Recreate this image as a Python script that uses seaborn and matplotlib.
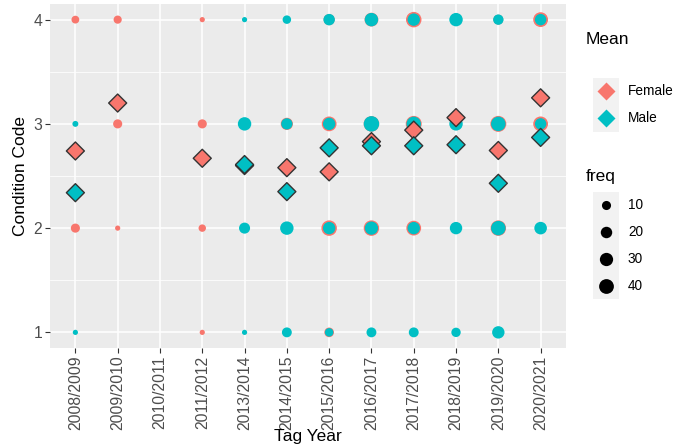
import numpy as np
import pandas as pd
import matplotlib
matplotlib.use("Agg")
import matplotlib.pyplot as plt
import seaborn as sns
from matplotlib.patches import Rectangle

# Tag years on the x axis (2012/2013 has no records)
years = ["2008/2009", "2009/2010", "2010/2011", "2011/2012", "2013/2014",
         "2014/2015", "2015/2016", "2016/2017", "2017/2018", "2018/2019",
         "2019/2020", "2020/2021"]
codes = [1, 2, 3, 4]

# Number of fish per condition code and tag year
female_c4 = [6, 7, 0, 1, 0, 0, 18, 33, 45, 11, 13, 40]
female_c3 = [0, 10, 0, 10, 3, 24, 40, 45, 49, 12, 49, 40]
female_c2 = [10, 1, 0, 5, 2, 17, 45, 45, 40, 7, 45, 16]
female_c1 = [0, 0, 0, 1, 0, 0, 12, 4, 8, 1, 0, 0]

male_c4 = [0, 0, 0, 0, 1, 8, 20, 31, 25, 31, 15, 20]
male_c3 = [2, 0, 0, 0, 31, 19, 25, 45, 38, 31, 38, 20]
male_c2 = [0, 0, 0, 0, 18, 31, 25, 30, 25, 25, 38, 26]
male_c1 = [1, 0, 0, 0, 1, 13, 8, 13, 13, 11, 25, 0]

# Mean condition code per tag year
female_mean = [2.74, 3.20, np.nan, 2.67, 2.60, 2.58, 2.54, 2.83, 2.94, 3.06, 2.745, 3.25]
male_mean = [2.34, np.nan, np.nan, np.nan, 2.61, 2.35, 2.77, 2.79, 2.79, 2.80, 2.43, 2.87]

freq_breaks = [10, 20, 30, 40]

RED = "#F8766D"
TEAL = "#00BFC4"
palette = {"Female": RED, "Male": TEAL}

# Long tables for seaborn
rows = []
for sex, per_code in [("Female", [female_c1, female_c2, female_c3, female_c4]),
                      ("Male", [male_c1, male_c2, male_c3, male_c4])]:
    for code, counts in zip(codes, per_code):
        for i, n in enumerate(counts):
            if n > 0:
                rows.append({"pos": i, "year": years[i], "code": code,
                             "freq": n, "sex": sex})
counts_df = pd.DataFrame(rows)

mrows = []
for sex, means in [("Female", female_mean), ("Male", male_mean)]:
    for i, m in enumerate(means):
        if not np.isnan(m):
            mrows.append({"pos": i, "year": years[i], "mean": m, "sex": sex})
means_df = pd.DataFrame(mrows)


def point_area(n):
    """Marker area (pt^2) for a frequency: diameter grows with sqrt(freq)."""
    d_px = 3.4 + 1.8 * np.sqrt(n)
    return (d_px * 72 / 100) ** 2


size_map = {n: point_area(n) for n in sorted(counts_df["freq"].unique())}

plt.rcParams["font.family"] = ["Liberation Sans", "DejaVu Sans"]

W, H = 678, 447
fig = plt.figure(figsize=(W / 100, H / 100), dpi=100)
fig.patch.set_facecolor("white")
L, R, T, B = 50, 566, 4, 348
ax = fig.add_axes([L / W, 1 - B / H, (R - L) / W, (B - T) / H])
ax.set_facecolor("#EBEBEB")
for s in ax.spines.values():
    s.set_visible(False)

# Frequency circles (females first, males on top)
sns.scatterplot(data=counts_df, x="pos", y="code", hue="sex", palette=palette,
                size="freq", sizes=size_map, linewidth=0, edgecolor="none",
                legend=False, ax=ax, zorder=3)

# Mean diamonds
sns.scatterplot(data=means_df, x="pos", y="mean", hue="sex", palette=palette,
                marker="D", s=84, edgecolor="#333333", linewidth=1.0,
                legend=False, ax=ax, zorder=4)

ax.set_xlim(-0.6, len(years) - 0.4)
ax.set_ylim(0.85, 4.15)
ax.set_xticks(range(len(years)))
ax.set_xticklabels(years, rotation=90)
ax.set_yticks(codes)
ax.set_yticklabels([str(c) for c in codes])
ax.set_yticks([1.5, 2.5, 3.5], minor=True)
ax.set_axisbelow(True)
ax.grid(which="major", color="white", linewidth=1.1)
ax.grid(which="minor", axis="y", color="white", linewidth=0.55)
ax.tick_params(axis="both", which="major", colors="#333333", length=3.5,
               width=0.8, labelsize=11.3, labelcolor="#4D4D4D", pad=2)
ax.tick_params(which="minor", length=0)
ax.set_xlabel("Tag Year", fontsize=12.5, color="black")
ax.xaxis.label.set_va("center")
ax.xaxis.set_label_coords(0.5, (B - 436) / (B - T))
ax.set_ylabel("Condition Code", fontsize=12.5, color="black")
ax.yaxis.label.set_va("center")
ax.yaxis.set_label_coords((21 - L) / (R - L), 0.5)

# Legend panel drawn in figure pixel space
leg = fig.add_axes([0, 0, 1, 1], facecolor="none")
leg.set_xlim(0, W)
leg.set_ylim(H, 0)
leg.axis("off")

kx0, kx1 = 593, 619
kxc = (kx0 + kx1) / 2
key_h = 26.8

leg.text(586, 40, "Mean", fontsize=12.5, va="center", ha="left")
top = 78
leg.add_patch(Rectangle((kx0, top), kx1 - kx0, 2 * key_h, facecolor="#F2F2F2",
                        edgecolor="none"))
for j, sex in enumerate(["Female", "Male"]):
    yc = top + key_h * (j + 0.5)
    leg.scatter([kxc], [yc], marker="D", s=84, color=palette[sex], linewidth=0)
    leg.text(628, yc, sex, fontsize=9.8, va="center", ha="left")

leg.text(586, 177, "freq", fontsize=12.5, va="center", ha="left")
top = 192
leg.add_patch(Rectangle((kx0, top), kx1 - kx0, len(freq_breaks) * key_h,
                        facecolor="#F2F2F2", edgecolor="none"))
for j, n in enumerate(freq_breaks):
    yc = top + key_h * (j + 0.5)
    leg.scatter([kxc], [yc], s=point_area(n), color="black", linewidth=0)
    leg.text(628, yc, str(n), fontsize=9.8, va="center", ha="left")

fig.savefig("out.png", dpi=100)
